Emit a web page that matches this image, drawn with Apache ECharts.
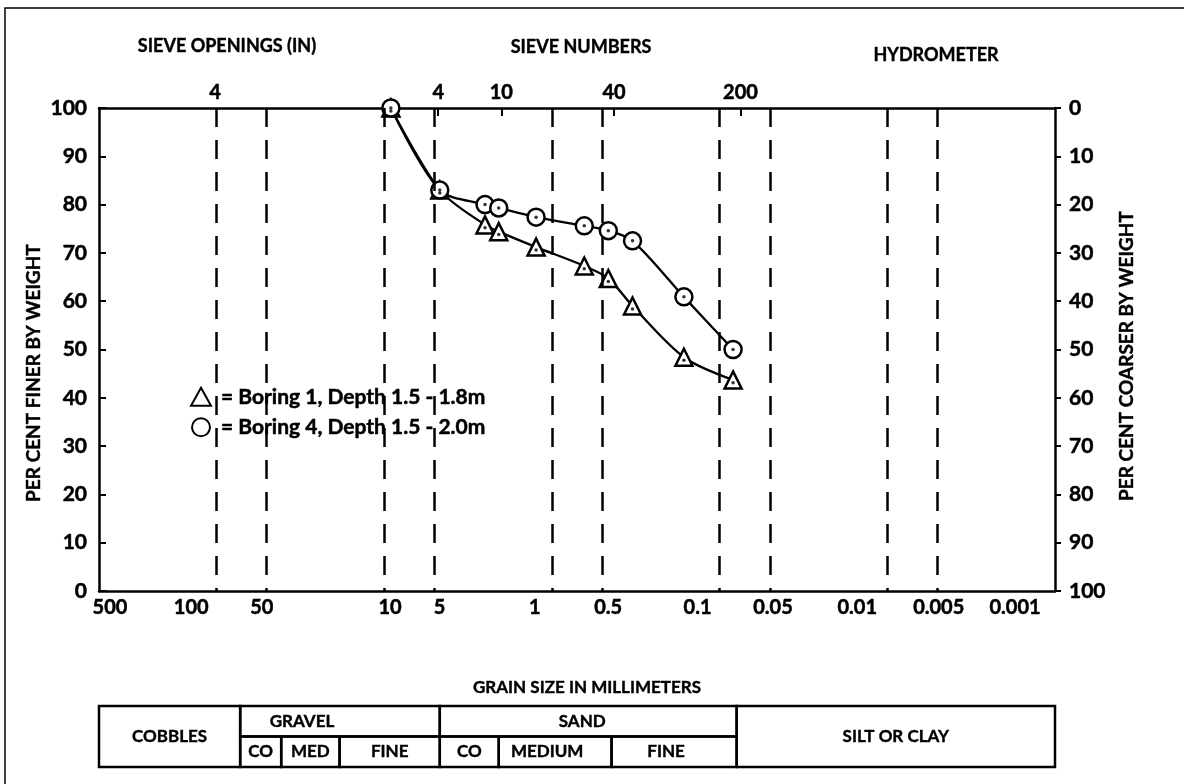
<!DOCTYPE html>
<html>
<head>
<meta charset="utf-8">
<script src="https://cdn.jsdelivr.net/npm/echarts@6/dist/echarts.min.js"></script>
<style>
  html, body { margin: 0; padding: 0; background: #fff; }
  #main { width: 1184px; height: 784px; }
</style>
</head>
<body>
<div id="main"></div>
<script>
  // grain size (mm) of each sieve reading
  const grainSizes = [9.1, 4.65, 2.5, 2.07, 1.24, 0.64, 0.46, 0.33, 0.163, 0.083];
  // per cent finer by weight
  const boring1 = [100, 83, 75.8, 74.4, 71.2, 67.3, 64.7, 59.0, 48.4, 43.7];
  const boring4 = [100, 83, 80, 79.3, 77.4, 75.6, 74.6, 72.5, 60.9, 50.0];
  const seriesNames = ['Boring 1, Depth 1.5 - 1.8m', 'Boring 4, Depth 1.5 - 2.0m'];

  // bottom axis (mm)
  const mmTicks = [500, 100, 50, 10, 5, 1, 0.5, 0.1, 0.05, 0.01, 0.005, 0.001];
  const mmLabels = ['500', '100', '50', '10', '5', '1', '0.5', '0.1', '0.05', '0.01', '0.005', '0.001'];
  const dashedAt = [100, 50, 10, 5, 1, 0.5, 0.1, 0.05, 0.01, 0.005];

  // top axis: sieve openings / sieve numbers (mm)
  const sieveSizes = [101.6, 4.75, 2.0, 0.425, 0.075];
  const sieveLabels = ['4', '4', '10', '40', '200'];
  const sieveTickSizes = [4.75, 2.0, 0.425, 0.075];

  // soil classification table (mm boundaries)
  const soilNames = ['COBBLES', 'GRAVEL', 'SAND', 'SILT OR CLAY'];
  const soilBounds = [500, 72, 4.65, 0.079, 0.001];
  const subNames = ['CO', 'MED', 'FINE', 'CO', 'MEDIUM', 'FINE'];
  const subBounds = [72, 41, 18.4, 4.65, 2.07, 0.44, 0.079];

  const FONT = 'Lato';
  const INK = '#000';
  const W = 'bold';
  const HEAVY = { textBorderColor: INK, textBorderWidth: 0.5 };

  // label nudges so the scanned tick labels sit where they were printed
  const labelShift = [11, -25, -5, 6, 5, -17, 6, -22, 3, -30, 1, -40];

  function nearestIndex(arr, v) {
    let best = 0;
    for (let i = 1; i < arr.length; i++) {
      if (Math.abs(Math.log(arr[i] / v)) < Math.abs(Math.log(arr[best] / v))) best = i;
    }
    return best;
  }

  const mmRich = {};
  labelShift.forEach((d, i) => {
    mmRich['s' + i] = Object.assign({
      fontFamily: FONT, fontWeight: W, fontSize: 20, color: INK,
      padding: d > 0 ? [0, 0, 0, 2 * d] : [0, -2 * d, 0, 0]
    }, HEAVY);
  });

  // table cells: [from, to, rowLo, rowHi]
  const tableCells = [];
  const tableText = [];
  const tableShift = [];
  [0, 3].forEach(i => {
    tableCells.push([soilBounds[i], soilBounds[i + 1], 0, 2]);
    tableText.push(soilNames[i]);
    tableShift.push(0);
  });
  [1, 2].forEach(i => {
    tableCells.push([soilBounds[i], soilBounds[i + 1], 1, 2]);
    tableText.push(soilNames[i]);
    tableShift.push(i === 1 ? -38 : -6);
  });
  subNames.forEach((n, i) => {
    tableCells.push([subBounds[i], subBounds[i + 1], 0, 1]);
    tableText.push(n);
    tableShift.push(i === 4 ? -8 : (i === 5 ? -8 : 0));
  });

  const axisLine = { show: true, lineStyle: { color: INK, width: 2.5 } };
  const labelFont = Object.assign({ fontFamily: FONT, fontWeight: W, fontSize: 21, color: INK }, HEAVY);

  function headerText(text, x, y, size, rot) {
    return {
      type: 'text', silent: true, x: x, y: y, rotation: rot || 0,
      style: { text: text, x: 0, y: 0, align: 'center', verticalAlign: 'middle',
        font: W + ' ' + size + 'px ' + FONT, fill: INK, stroke: INK, lineWidth: 0.4 }
    };
  }

  const chart = echarts.init(document.getElementById('main'));

  const option = {
    backgroundColor: '#fff',
    animation: false,
    graphic: [
      { type: 'rect', silent: true, shape: { x: 5, y: 8, width: 1400, height: 900 },
        style: { fill: 'none', stroke: INK, lineWidth: 1.5 } },
      headerText('SIEVE OPENINGS (IN)', 227, 46, 18),
      headerText('SIEVE NUMBERS', 581, 47, 18),
      headerText('HYDROMETER', 936, 55, 18),
      headerText('GRAIN SIZE IN MILLIMETERS', 587, 688, 17),
      headerText('PER CENT FINER BY WEIGHT', 34, 373, 19, Math.PI / 2),
      headerText('PER CENT COARSER BY WEIGHT', 1127, 356, 19, Math.PI / 2)
    ],
    legend: {
      orient: 'vertical',
      left: 190,
      top: 386,
      padding: 0,
      itemGap: 9,
      itemWidth: 20,
      itemHeight: 18,
      selectedMode: false,
      formatter: name => '{gap|}= ' + name,
      textStyle: Object.assign({ fontFamily: FONT, fontWeight: W, fontSize: 21, color: INK,
        rich: { gap: { width: 5 } } }, HEAVY),
      data: [
        { name: seriesNames[0], icon: 'triangle',
          itemStyle: { color: '#fff', borderColor: INK, borderWidth: 2 } },
        { name: seriesNames[1], icon: 'circle',
          itemStyle: { color: '#fff', borderColor: INK, borderWidth: 2 } }
      ]
    },
    grid: [
      { left: 99, right: 129, top: 108, bottom: 193 },
      { left: 99, right: 129, top: 706, height: 61 }
    ],
    xAxis: [
      {
        type: 'log', gridIndex: 0, position: 'bottom', inverse: true,
        min: 0.001, max: 500, logBase: 10,
        axisLine: axisLine,
        axisTick: { show: false },
        splitLine: { show: false },
        minorTick: { show: false },
        axisLabel: {
          margin: 7,
          customValues: mmTicks,
          formatter: v => {
            const i = nearestIndex(mmTicks, v);
            return '{s' + i + '|' + mmLabels[i] + '}';
          },
          rich: mmRich
        }
      },
      {
        type: 'log', gridIndex: 0, position: 'top', inverse: true,
        min: 0.001, max: 500, logBase: 10,
        axisLine: axisLine,
        axisTick: { show: true, inside: true, length: 8, customValues: sieveTickSizes,
          lineStyle: { color: INK, width: 2 } },
        splitLine: { show: false },
        minorTick: { show: false },
        axisLabel: Object.assign({}, labelFont, {
          fontSize: 20,
          margin: 5,
          customValues: sieveSizes,
          formatter: v => sieveLabels[nearestIndex(sieveSizes, v)]
        })
      },
      {
        type: 'log', gridIndex: 1, inverse: true,
        min: 0.001, max: 500, logBase: 10, show: false
      }
    ],
    yAxis: [
      {
        type: 'value', gridIndex: 0, min: 0, max: 100, interval: 10,
        axisLine: axisLine,
        axisTick: { show: true, inside: true, length: 7, lineStyle: { color: INK, width: 2 } },
        splitLine: { show: false },
        axisLabel: Object.assign({}, labelFont, { margin: 12 })
      },
      {
        type: 'value', gridIndex: 0, position: 'right', inverse: true,
        min: 0, max: 100, interval: 10,
        axisLine: axisLine,
        axisTick: { show: true, inside: false, length: 6, lineStyle: { color: INK, width: 2 } },
        splitLine: { show: false },
        axisLabel: Object.assign({}, labelFont, { margin: 14 })
      },
      { type: 'value', gridIndex: 1, min: 0, max: 2, show: false }
    ],
    series: [
      {
        name: seriesNames[0],
        type: 'line',
        xAxisIndex: 0, yAxisIndex: 0,
        smooth: 0.3,
        symbol: 'triangle',
        symbolSize: 17,
        showAllSymbol: true,
        lineStyle: { color: INK, width: 2.3 },
        itemStyle: { color: '#fff', borderColor: INK, borderWidth: 2.5 },
        data: grainSizes.map((x, i) => [x, boring1[i]]),
        markLine: {
          silent: true,
          symbol: ['none', 'none'],
          label: { show: false },
          lineStyle: { color: INK, width: 2.5, type: [19, 13] },
          data: dashedAt.map(v => [{ coord: [v, 100] }, { coord: [v, 0] }])
        }
      },
      {
        name: seriesNames[1],
        type: 'line',
        xAxisIndex: 0, yAxisIndex: 0,
        smooth: 0.3,
        symbol: 'circle',
        symbolSize: 17,
        showAllSymbol: true,
        lineStyle: { color: INK, width: 2.3 },
        itemStyle: { color: '#fff', borderColor: INK, borderWidth: 2.5 },
        data: grainSizes.map((x, i) => [x, boring4[i]])
      },
      {
        type: 'scatter',
        xAxisIndex: 0, yAxisIndex: 0,
        silent: true, z: 5,
        symbolSize: 3.5,
        itemStyle: { color: INK },
        data: grainSizes.map((x, i) => [x, boring1[i] - 0.6])
          .concat(grainSizes.map((x, i) => [x, boring4[i]]))
      },
      {
        type: 'custom',
        xAxisIndex: 2, yAxisIndex: 2,
        silent: true,
        encode: { x: [0, 1], y: [2, 3] },
        data: tableCells,
        renderItem: (params, api) => {
          const p1 = api.coord([api.value(0), api.value(3)]);
          const p2 = api.coord([api.value(1), api.value(2)]);
          const i = params.dataIndex;
          return {
            type: 'group',
            children: [
              { type: 'rect',
                shape: { x: p1[0], y: p1[1], width: p2[0] - p1[0], height: p2[1] - p1[1] },
                style: { fill: 'none', stroke: INK, lineWidth: 2.5 } },
              { type: 'text',
                style: { text: tableText[i], x: (p1[0] + p2[0]) / 2 + tableShift[i], y: (p1[1] + p2[1]) / 2,
                  align: 'center', verticalAlign: 'middle', font: W + ' 17px ' + FONT, fill: INK,
                  stroke: INK, lineWidth: 0.4 } }
            ]
          };
        }
      }
    ]
  };

  chart.setOption(option);
</script>
</body>
</html>
